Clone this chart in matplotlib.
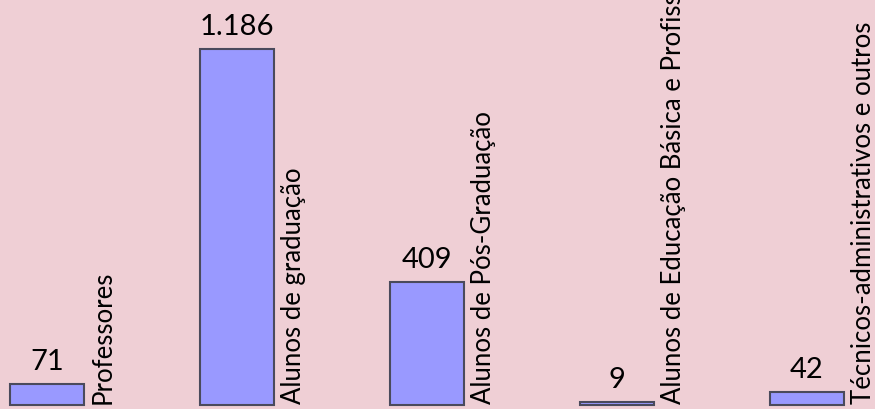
import matplotlib.pyplot as plt
import numpy as np

categorias = ['Professores', 'Alunos de graduação', 'Alunos de Pós-Graduação',
              'Alunos de Educação Básica e Profissional',
              'Técnicos-administrativos e outros']
valores = [71, 1186, 409, 9, 42]
rotulos = ['71', '1.186', '409', '9', '42']

plt.rcParams['font.family'] = ['Lato', 'DejaVu Sans']

fig = plt.figure(figsize=(8.75, 4.10), dpi=100, facecolor='#efcfd5')
ax = fig.add_axes([0, 0, 1, 0.9])
ax.set_facecolor('#f2cad8')

x = np.arange(len(valores))
largura = 0.39
ax.bar(x, valores, width=largura, color='#9999ff', edgecolor='#4a4a5c',
       linewidth=1.5, zorder=2)

for xi, v, rot, cat in zip(x, valores, rotulos, categorias):
    # valor acima da barra
    ax.text(xi, v + 34, rot, ha='center', va='bottom', fontsize=21,
            color='black')
    # nome da categoria, vertical, à direita da barra
    ax.text(xi + largura / 2 + 0.035, 8, cat, rotation=90, ha='left',
            va='bottom', fontsize=18.5, color='black', clip_on=False)

ax.set_xlim(-0.247, 4.358)
ax.set_ylim(-13, 1216)
ax.axis('off')

fig.savefig('out.png', dpi=100, facecolor=fig.get_facecolor())
